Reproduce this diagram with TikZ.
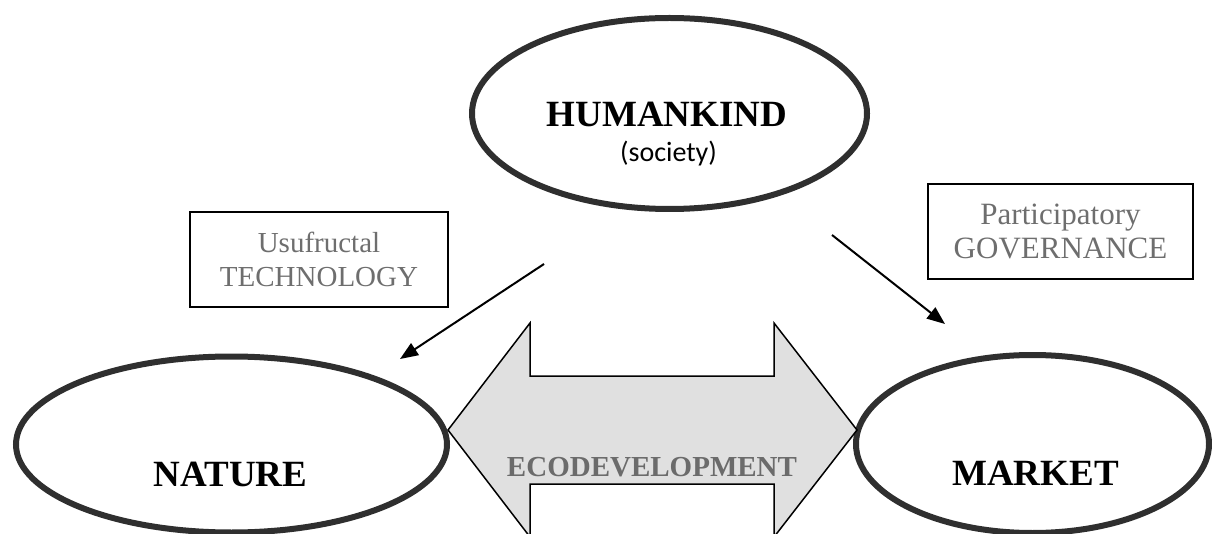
\documentclass[tikz,border=0pt]{standalone}
\usepackage{fontspec}
\setmainfont{Liberation Serif}
\newfontfamily\socfont{Carlito}
\usetikzlibrary{shapes.geometric,arrows.meta}
\definecolor{ovalgray}{HTML}{2F2F2F}
\definecolor{boxgray}{HTML}{6E6E6E}
\definecolor{arrowfill}{HTML}{E0E0E0}
\definecolor{ecogray}{HTML}{6B6B6B}
\begin{document}
\begin{tikzpicture}[x=1pt,y=-1pt,
  oval/.style={ellipse, draw=ovalgray, line width=6pt, inner sep=0pt},
  bigtxt/.style={font=\fontsize{37}{44}\selectfont\bfseries, anchor=base, inner sep=0pt},
  labelbox/.style={draw=black, line width=1.5pt, text=boxgray, align=center,
    minimum height=95pt, inner sep=0pt},
  link/.style={line width=2pt, -{Triangle[length=18pt,width=14pt]}}
]
\useasboundingbox (0,0) rectangle (1212,534);
% ellipses
\node[oval, minimum width=395pt, minimum height=191pt] (hum) at (669.5,113.5) {};
\node[oval, minimum width=431pt, minimum height=176pt] (nat) at (231.5,444.5) {};
\node[oval, minimum width=353pt, minimum height=178pt] (mkt) at (1032.5,444) {};
% texts in ellipses
\node[bigtxt] (humt) at (667,127) {HUMANKIND};
\node[anchor=base, inner sep=0pt, font=\socfont\fontsize{28}{32}\selectfont] (soct) at (668.5,162) {(society)};
\node[bigtxt] (natt) at (230.5,486) {NATURE};
\node[bigtxt] (mktt) at (1035.5,485) {MARKET};
% label boxes
\node[labelbox, minimum width=258pt, font=\fontsize{29}{34}\selectfont] (tech) at (319,259.5) {Usufructal\\TECHNOLOGY};
\node[labelbox, minimum width=265pt, font=\fontsize{31}{34}\selectfont] (gov) at (1060.5,231.5) {Participatory\\GOVERNANCE};
% big double arrow
\draw[fill=arrowfill, line width=1.5pt, line join=miter]
  (448,430) -- (530,323) -- (530,376) -- (774,376) -- (774,323) -- (857,430)
  -- (774,537) -- (774,484) -- (530,484) -- (530,537) -- cycle;
\node[anchor=base, inner sep=0pt, text=ecogray, font=\fontsize{29}{34}\selectfont\bfseries] (eco) at (652,476) {ECODEVELOPMENT};
% connectors
\coordinate (la) at (544,264);
\coordinate (lb) at (400,359);
\coordinate (ra) at (832,235);
\coordinate (rb) at (945,324);
\draw[link] (la) -- (lb);
\draw[link] (ra) -- (rb);
\end{tikzpicture}
\end{document}
